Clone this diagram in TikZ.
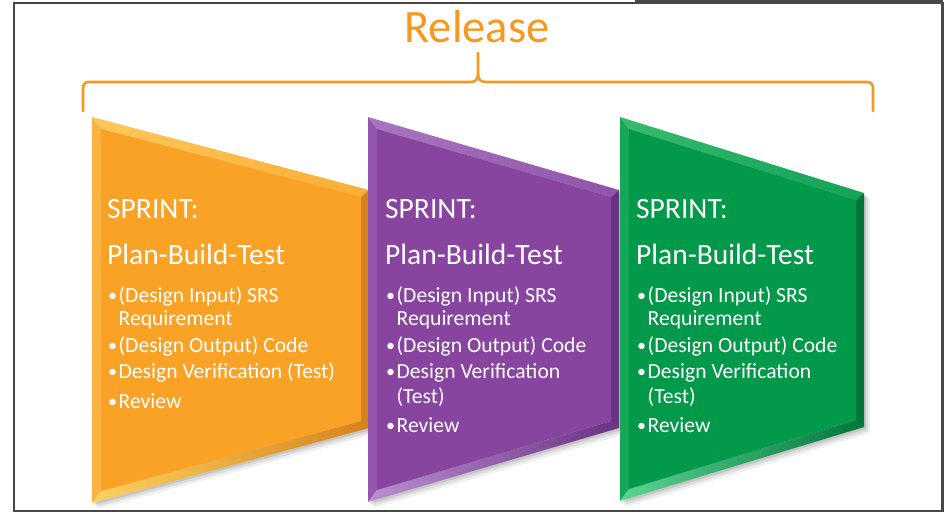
\documentclass[tikz,border=0pt]{standalone}
\usepackage{fontspec}
\setmainfont{Carlito}
\definecolor{framegray}{RGB}{72,72,72}
\definecolor{relorange}{RGB}{247,152,31}
\definecolor{oMain}{RGB}{249,162,37}
\definecolor{oTop}{RGB}{252,200,90}
\definecolor{oLeft}{RGB}{250,178,64}
\definecolor{oRight}{RGB}{214,130,26}
\definecolor{oBot}{RGB}{253,210,96}
\definecolor{pMain}{RGB}{135,69,160}
\definecolor{pTop}{RGB}{168,118,192}
\definecolor{pLeft}{RGB}{148,86,174}
\definecolor{pRight}{RGB}{106,50,130}
\definecolor{pBot}{RGB}{186,144,210}
\definecolor{gMain}{RGB}{3,153,75}
\definecolor{gTop}{RGB}{55,186,112}
\definecolor{gLeft}{RGB}{20,168,88}
\definecolor{gRight}{RGB}{2,118,58}
\definecolor{gBot}{RGB}{92,212,146}
% #1 name, #2 colour prefix, #3 x left, #4 x right, #5 y top-left, #6 y top-right, #7 y bottom-right, #8 y bottom-left
\newcommand\sprintshape[8]{%
  \coordinate (#1A) at (#3,#5);
  \coordinate (#1B) at (#4,#6);
  \coordinate (#1C) at (#4,#7);
  \coordinate (#1D) at (#3,#8);
  \coordinate (#1a) at ($(#1A)+(9,12)$);
  \coordinate (#1b) at ($(#1B)+(-8,7)$);
  \coordinate (#1c) at ($(#1C)+(-8,-7)$);
  \coordinate (#1d) at ($(#1D)+(9,-12)$);
  \foreach \s/\o in {2/0.10,4/0.08,6/0.06}{%
    \fill[black,opacity=\o] ($(#1A)+(\s,\s)$) -- ($(#1B)+(\s,\s)$) -- ($(#1C)+(\s,\s)$) -- ($(#1D)+(\s,\s)$) -- cycle;}
  \fill[#2Left] (#1A) -- (#1a) -- (#1d) -- (#1D) -- cycle;
  \shade[left color=#2Top, right color=#2Main!70!#2Top] (#1A) -- (#1B) -- (#1b) -- (#1a) -- cycle;
  \fill[#2Right] (#1B) -- (#1C) -- (#1c) -- (#1b) -- cycle;
  \shade[left color=#2Bot, right color=#2Right] (#1D) -- (#1d) -- (#1c) -- (#1C) -- cycle;
  \fill[#2Main] (#1a) -- (#1b) -- (#1c) -- (#1d) -- cycle;
}
\tikzset{
  hdr/.style={anchor=base west, text=white, inner sep=0pt, font=\fontsize{29.5}{31}\selectfont},
  itm/.style={anchor=base west, text=white, inner sep=0pt, font=\fontsize{21.6}{24}\selectfont},
  bul/.style={anchor=base west, text=white, inner sep=0pt, font=\fontsize{18}{24}\selectfont},
}
\usetikzlibrary{calc}
\begin{document}
\begin{tikzpicture}[x=1pt,y=-1pt]
\useasboundingbox (0,0) rectangle (945,512);
\fill[white] (0,0) rectangle (945,512);
% frame
\fill[framegray] (635,0) rectangle (943,2.8);
\draw[framegray, line width=2.5pt] (14,2.8) rectangle (942.5,510.8);
% title and bracket
\node[text=relorange, font=\fontsize{46.5}{50}\selectfont, anchor=base, inner sep=0pt] (rel) at (477,42) {Release};
\draw[relorange, line width=2.6pt, line join=round, line cap=round]
  (83,111) -- (83,89) .. controls (83,84) and (85,82) .. (89,82) -- (470,82)
  .. controls (475,82) and (478,80) .. (478,74) -- (478,53) -- (478,74)
  .. controls (478,80) and (481,82) .. (486,82) -- (867,82)
  .. controls (871,82) and (873,84) .. (873,89) -- (873,111);
% shapes
\sprintshape{o}{o}{92}{369}{117}{190}{428}{503}
\sprintshape{p}{p}{368}{619}{117}{190}{428}{502}
\sprintshape{g}{g}{620}{864}{117}{193}{427}{501}
% orange texts
\node[hdr] (o1) at (107,218) {SPRINT:};
\node[hdr] (o2) at (107,264) {Plan-Build-Test};
\node[bul] (o3b) at (108,301) {•};
\node[itm] (o3) at (118.5,302) {(Design Input) SRS};
\node[itm] (o4) at (118.5,325) {Requirement};
\node[bul] (o5b) at (108,351) {•};
\node[itm] (o5) at (118.5,352) {(Design Output) Code};
\node[bul] (o6b) at (108,377) {•};
\node[itm] (o6) at (118.5,378) {Design Verification (Test)};
\node[bul] (o7b) at (108,407) {•};
\node[itm] (o7) at (118.5,408) {Review};
% purple texts
\node[hdr] (p1) at (385,218) {SPRINT:};
\node[hdr] (p2) at (385,264) {Plan-Build-Test};
\node[bul] (p3b) at (386,301) {•};
\node[itm] (p3) at (396.5,302) {(Design Input) SRS};
\node[itm] (p4) at (396.5,325) {Requirement};
\node[bul] (p5b) at (386,351) {•};
\node[itm] (p5) at (396.5,352) {(Design Output) Code};
\node[bul] (p6b) at (386,377) {•};
\node[itm] (p6) at (396.5,378) {Design Verification};
\node[itm] (p7) at (396.5,403) {(Test)};
\node[bul] (p8b) at (386,431) {•};
\node[itm] (p8) at (396.5,432) {Review};
% green texts
\node[hdr] (g1) at (636,218) {SPRINT:};
\node[hdr] (g2) at (636,264) {Plan-Build-Test};
\node[bul] (g3b) at (637,301) {•};
\node[itm] (g3) at (647.5,302) {(Design Input) SRS};
\node[itm] (g4) at (647.5,325) {Requirement};
\node[bul] (g5b) at (637,351) {•};
\node[itm] (g5) at (647.5,352) {(Design Output) Code};
\node[bul] (g6b) at (637,377) {•};
\node[itm] (g6) at (647.5,378) {Design Verification};
\node[itm] (g7) at (647.5,403) {(Test)};
\node[bul] (g8b) at (637,431) {•};
\node[itm] (g8) at (647.5,432) {Review};
\end{tikzpicture}
\end{document}
